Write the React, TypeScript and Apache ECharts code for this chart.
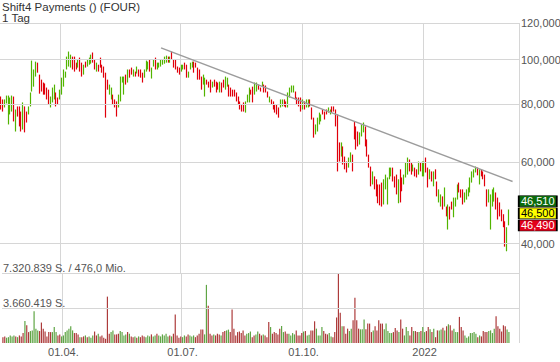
import React, { useEffect, useRef } from 'react';
import * as echarts from 'echarts';

// ---------- data ----------
const TITLE = 'Shift4 Payments () (FOUR)';
const PERIOD = '1 Tag';
const START_DATE = '2021-02-15';
const END_DATE = '2022-03-08';
const EMPTY_SLOTS = 5;

const HIGH = [
  // Feb 15 - Mar 31 2021
  83.2, 82.0, 82.0, 83.6, 83.6, 82.8, 83.6, 83.2, 78.0, 79.2,
  79.2, 77.2, 80.8, 79.2, 77.2, 79.2, 84.9, 99.5, 95.2, 99.0,
  98.5, 92.8, 90.5, 89.2, 88.8, 87.0, 86.1, 83.2, 87.0, 88.3,
  84.9, 82.8, 86.1,
  // Q2
  91.4, 95.2, 94.2, 101.5, 104.1, 102.5, 101.5, 101.5, 98.5, 100.0,
  101.0, 98.5, 97.5, 99.0, 100.0, 101.0, 102.5, 103.6, 100.0, 98.5,
  97.5, 101.0, 97.5, 96.6, 93.7, 90.5, 88.3, 87.0, 84.0, 82.0,
  81.2, 84.0, 91.9, 91.9, 91.9, 92.8, 95.2, 95.2, 96.1, 95.2,
  94.2, 96.6, 95.2, 95.2, 93.7, 95.2, 99.5, 99.0, 100.0, 96.1,
  100.0, 101.0, 98.5, 98.5, 100.0, 100.0, 101.5, 102.0, 101.5, 101.5,
  104.1, 100.0, 100.0, 96.6, 96.1,
  // Q3
  97.5, 97.5, 98.5, 97.5, 94.2, 98.5, 99.0, 99.0, 98.5, 96.1,
  95.2, 91.9, 92.8, 91.4, 90.5, 89.6, 90.5, 89.6, 90.5, 89.6,
  89.2, 89.6, 89.2, 90.5, 91.9, 91.4, 88.3, 87.0, 86.1, 86.1,
  84.9, 83.2, 81.2, 80.0, 80.8, 81.2, 84.0, 87.0, 86.1, 87.4,
  89.2, 89.2, 88.3, 87.0, 89.6, 88.3, 87.9, 85.3, 83.2, 82.0,
  81.2, 80.0, 80.0, 78.8, 82.0, 82.0, 82.0, 81.2, 84.9, 87.0,
  87.9, 87.9, 85.3, 82.8, 82.8, 82.8,
  // Q4
  82.0, 81.2, 82.0, 82.0, 82.0, 78.8, 74.9, 72.4, 74.9, 76.8,
  76.1, 78.0, 77.2, 78.0, 78.8, 78.0, 79.2, 79.2, 78.0, 76.1,
  66.2, 66.2, 64.9, 61.7, 60.2, 61.4, 63.0, 62.3, 73.5, 71.7,
  69.9, 69.6, 72.4, 73.1, 71.7, 67.2, 62.3, 58.7, 57.3, 55.9,
  55.1, 53.7, 53.7, 54.2, 55.1, 56.4, 55.6, 58.4, 58.4, 58.4,
  55.9, 56.4, 55.1, 57.9, 55.6, 56.4, 59.9, 61.4, 60.8, 59.9,
  59.3, 58.4, 57.9, 60.2, 59.9, 60.2,
  // 2022
  60.2, 61.4, 58.4, 57.9, 57.3, 57.3, 57.9, 54.5, 52.4, 51.1,
  50.6, 52.9, 48.1, 48.6, 48.1, 49.3, 50.3, 50.3, 53.7, 54.2,
  52.4, 52.4, 51.6, 52.4, 52.9, 55.6, 57.3, 57.9, 58.7, 58.4,
  57.9, 57.9, 57.3, 56.4, 52.4, 52.4, 51.1, 52.4, 52.9, 51.6,
  50.3, 49.1, 47.4, 46.3, 44.7, 43.4, 47.4,
];

const LOW = [
  78.0, 77.2, 78.8, 80.4, 72.4, 76.1, 77.2, 73.5, 69.9, 75.3,
  71.7, 69.9, 70.6, 69.6, 73.1, 76.1, 79.2, 85.3, 87.4, 91.9,
  93.7, 84.4, 85.3, 84.0, 84.0, 82.0, 80.0, 78.8, 80.8, 82.0,
  79.2, 80.0, 82.0,
  84.0, 87.4, 91.4, 95.2, 96.6, 96.1, 95.2, 94.2, 95.2, 96.1,
  94.2, 91.9, 92.8, 96.1, 96.6, 97.5, 98.0, 98.5, 95.2, 94.2,
  94.2, 96.1, 93.7, 91.4, 74.9, 86.1, 84.0, 82.0, 80.0, 78.8,
  75.3, 78.8, 81.2, 89.2, 84.0, 88.3, 89.2, 91.4, 92.8, 91.9,
  91.9, 93.3, 91.9, 91.4, 89.2, 91.4, 94.2, 95.2, 94.2, 91.0,
  96.6, 95.2, 95.2, 96.1, 96.6, 97.5, 98.0, 98.5, 98.5, 98.5,
  100.0, 96.1, 95.2, 93.7, 92.8,
  94.2, 95.2, 95.2, 91.4, 91.4, 95.2, 96.1, 93.7, 96.1, 90.5,
  90.5, 86.1, 88.3, 83.2, 88.3, 87.0, 84.9, 87.0, 87.4, 84.9,
  86.1, 84.9, 84.9, 87.0, 86.1, 87.4, 83.2, 83.2, 83.2, 83.2,
  81.2, 80.0, 78.0, 77.2, 77.2, 76.8, 80.8, 80.8, 84.0, 80.8,
  84.0, 85.3, 86.1, 85.3, 87.4, 84.9, 84.9, 82.8, 80.8, 80.0,
  78.0, 76.8, 76.1, 74.9, 78.8, 79.2, 79.2, 78.8, 78.8, 82.8,
  84.9, 84.9, 82.0, 80.0, 79.2, 77.2,
  78.0, 78.0, 78.8, 78.8, 79.2, 74.2, 67.8, 68.9, 69.9, 72.4,
  73.5, 76.1, 74.2, 76.1, 76.8, 76.1, 76.8, 77.2, 71.7, 57.3,
  60.2, 61.7, 59.3, 57.9, 57.0, 58.4, 59.9, 57.3, 67.2, 63.9,
  64.9, 65.5, 68.2, 69.6, 64.9, 61.7, 58.4, 53.2, 53.7, 52.4,
  50.6, 48.9, 48.4, 48.1, 48.6, 52.4, 48.6, 55.1, 55.9, 54.5,
  52.9, 51.1, 48.9, 49.1, 51.9, 53.7, 55.6, 56.4, 57.3, 56.4,
  57.3, 55.9, 55.6, 56.4, 57.3, 55.9,
  55.9, 57.0, 52.9, 55.1, 54.5, 53.2, 55.1, 50.6, 49.1, 48.1,
  47.4, 48.1, 45.8, 42.9, 45.1, 47.4, 45.6, 48.1, 49.8, 51.6,
  50.3, 48.6, 49.1, 49.8, 50.6, 51.6, 54.2, 55.6, 57.0, 56.2,
  53.7, 55.9, 55.1, 53.2, 48.1, 49.1, 42.9, 48.1, 49.3, 47.4,
  45.1, 45.8, 44.7, 43.4, 39.4, 38.5, 43.8,
];

// G = rising bar, R = falling bar
const DIRECTION = [
  'RR' + 'GGGGG' + 'R' + 'G' + 'RRR' + 'G' + 'RR' + 'GGGGG' + 'RRRRRRR' + 'GGG' + 'RR' + 'G',
  'GGGGGGRRRGRRGRGGGRRGRRRRRR' + 'GGRRRGGGGRGRRGRGRRRGGGRGGRGGGGGGRGRRRRR',
  'GG' + 'RR' + 'GGG' + 'RRRRR' + 'GG' + 'RRR' + 'G' + 'RRR' + 'G' + 'RR' + 'GG' + 'RRRRRRRRR' + 'GGG' + 'RR' + 'GG' + 'RR' + 'G' + 'RRR' + 'G' + 'RRRRR' + 'GG' + 'RR' + 'GGGG' + 'RRRR',
  'G' + 'R' + 'GG' + 'RRR' + 'GGGG' + 'RRR' + 'GG' + 'RRRRR' + 'G' + 'RRR' + 'GG' + 'RRRR' + 'GGG' + 'RRRR' + 'G' + 'RRRRR' + 'GGGGG' + 'RRR' + 'G' + 'RR' + 'GGG' + 'RR' + 'G' + 'RR' + 'G' + 'R' + 'G',
  'G' + 'RR' + 'G' + 'R' + 'G' + 'RR' + 'GG' + 'R' + 'G' + 'R' + 'G' + 'RR' + 'GGG' + 'RRR' + 'GGGGGGG' + 'R' + 'G' + 'RRRR' + 'GGGG' + 'RRRRRR' + 'GG',
].join('');

// volume in thousand shares
const VOLUME_K = [
  610, 690, 550, 610, 790, 690, 790, 690, 610, 790,
  690, 1040, 2300, 1850, 1140, 1250, 1320, 3330, 1500, 1320,
  1250, 2140, 1500, 1200, 690, 1140, 1140, 1140, 1670, 1140,
  790, 900, 690,
  790, 1140, 1320, 1500, 1750, 1320, 1040, 1040, 900, 610,
  610, 690, 790, 610, 690, 550, 790, 1200, 790, 970,
  690, 790, 550, 440, 4850, 970, 1140, 1320, 900, 900,
  970, 1250, 1140, 790, 900, 1140, 970, 690, 610, 690,
  550, 690, 610, 790, 690, 610, 790, 690, 900, 690,
  790, 970, 790, 690, 900, 790, 970, 690, 790, 690,
  970, 2980, 790, 550, 690,
  610, 790, 690, 900, 790, 690, 790, 610, 790, 970,
  1400, 1400, 900, 6080, 3900, 970, 790, 900, 790, 970,
  900, 790, 1140, 1250, 1320, 1400, 1140, 3510, 1500, 790,
  1140, 1200, 1040, 1320, 790, 970, 1040, 1200, 610, 790,
  900, 1200, 970, 790, 900, 790, 610, 2200, 1670, 970,
  1140, 1040, 900, 1500, 1780, 1140, 1200, 970, 970, 790,
  1040, 900, 1320, 790, 790, 1040,
  1200, 1250, 790, 860, 1320, 1320, 2270, 1500, 790, 790,
  1670, 1250, 970, 900, 1040, 690, 610, 1140, 2670, 7300,
  3160, 1750, 1750, 970, 1500, 1250, 1500, 2380, 4740, 2380,
  1500, 1430, 1430, 2450, 1430, 2030, 2030, 1140, 1320, 1750,
  1320, 2380, 2030, 2030, 1430, 2030, 1250, 1040, 1040, 1140,
  1570, 1320, 1140, 2450, 1500, 790, 1670, 1250, 790, 1670,
  1250, 1250, 1140, 1140, 1250, 1670,
  1140, 1250, 1670, 1430, 1140, 1500, 610, 1320, 1320, 1400,
  1600, 1320, 1750, 1960, 1850, 1320, 1500, 1140, 1140, 2730,
  1670, 1320, 790, 550, 690, 1040, 1040, 1140, 970, 610,
  790, 690, 1250, 1140, 1140, 1250, 1320, 1040, 1500, 2800,
  1750, 1500, 1200, 1850, 1750, 1400, 1140,
];

const PRICE_TICKS = [40, 60, 80, 100, 120];
const PRICE_MIN = 34.55;
const PRICE_MAX = 120;
const VOLUME_MAX = 7320839;
const TURNOVER = '476,0 Mio.';
const TREND_START = { idx: 87, price: 106.0 };
const TREND_END = { idx: 278, price: 54.5 };
const QUOTES = [
  { value: 46.51, bg: '#0c6b0c', fg: '#ffffff', shift: -12 },
  { value: 46.5, bg: '#ffff00', fg: '#000000', shift: 0 },
  { value: 46.49, bg: '#e2001a', fg: '#ffffff', shift: 12 },
];

// ---------- style ----------
const FONT = '"Liberation Sans", Arial, Helvetica, sans-serif';
const GRID_COLOR = '#d6d6d6';
const TEXT_COLOR = '#555555';
const UP = '#52b400';
const DOWN = '#e0000b';
const VOL_UP = '#5fa545';
const VOL_DOWN = '#ad3b3b';

function buildDates(start: string, end: string, extra: number): string[] {
  const out: string[] = [];
  const d = new Date(start + 'T00:00:00Z');
  const e = new Date(end + 'T00:00:00Z');
  while (d <= e) {
    const wd = d.getUTCDay();
    if (wd !== 0 && wd !== 6) out.push(d.toISOString().slice(0, 10));
    d.setUTCDate(d.getUTCDate() + 1);
  }
  let k = 0;
  while (k < extra) {
    const wd = d.getUTCDay();
    if (wd !== 0 && wd !== 6) {
      out.push(d.toISOString().slice(0, 10));
      k++;
    }
    d.setUTCDate(d.getUTCDate() + 1);
  }
  return out;
}

const fmtPrice = (v: number) => v.toFixed(3).replace('.', ',');
const fmtShares = (v: number) =>
  String(Math.floor(v)).replace(/\B(?=(\d{3})+(?!\d))/g, '.');

export default function App() {
  const ref = useRef<HTMLDivElement>(null);

  useEffect(() => {
    if (!ref.current) return;
    const chart = echarts.init(ref.current, undefined, { renderer: 'svg' });
    const dates = buildDates(START_DATE, END_DATE, EMPTY_SLOTS);
    const lastIdx = dates.length - 1;
    const month = (s: string) => Number(s.slice(5, 7));
    const isQuarterStart = (index: number) =>
      index > 0 &&
      index < dates.length &&
      month(dates[index]) !== month(dates[index - 1]) &&
      (month(dates[index]) - 1) % 3 === 0;
    const fmtDate = (s: string) => {
      const [y, m, d] = s.split('-');
      return m === '01' ? y : `${d}.${m}.`;
    };

    const ohlc = HIGH.map((h, i) =>
      DIRECTION[i] === 'G' ? [LOW[i], h, LOW[i], h] : [h, LOW[i], LOW[i], h]
    );
    const volume = VOLUME_K.map((v, i) => ({
      value: v * 1000,
      itemStyle: { color: DIRECTION[i] === 'G' ? VOL_UP : VOL_DOWN },
    }));

    const xBase = {
      type: 'category',
      data: dates,
      boundaryGap: true,
      axisLine: { show: false },
      axisTick: { show: false },
      splitLine: {
        show: true,
        interval: (i: number) => isQuarterStart(i),
        lineStyle: { color: GRID_COLOR, width: 1 },
      },
    };

    chart.setOption({
      animation: false,
      backgroundColor: '#ffffff',
      textStyle: { fontFamily: FONT },
      title: {
        text: TITLE + '\n' + PERIOD,
        left: 2,
        top: 1,
        padding: 0,
        textStyle: {
          fontFamily: FONT,
          fontSize: 11.5,
          fontWeight: 'normal',
          color: '#333333',
          lineHeight: 11,
        },
      },
      grid: [
        { left: 0, right: 41, top: 23, height: 250 },
        { left: 0, right: 41, top: 273, height: 70 },
      ],
      xAxis: [
        { ...xBase, gridIndex: 0, axisLabel: { show: false } },
        {
          ...xBase,
          gridIndex: 1,
          axisLabel: {
            show: true,
            interval: (i: number) => isQuarterStart(i),
            formatter: (v: string) => fmtDate(v),
            color: TEXT_COLOR,
            fontSize: 11,
            fontFamily: FONT,
            margin: 3,
          },
        },
      ],
      yAxis: [
        { type: 'log', gridIndex: 0, min: PRICE_MIN, max: PRICE_MAX, show: false },
        {
          type: 'value',
          gridIndex: 1,
          min: 0,
          max: VOLUME_MAX,
          interval: VOLUME_MAX / 2,
          axisLine: { show: false },
          axisTick: { show: false },
          splitLine: { show: false },
          axisLabel: {
            inside: true,
            margin: 1,
            verticalAlign: 'bottom',
            color: TEXT_COLOR,
            fontSize: 11,
            fontFamily: FONT,
            formatter: (v: number) =>
              v <= 0
                ? ''
                : v >= VOLUME_MAX
                ? `${fmtShares(v)} S. / ${TURNOVER}`
                : `${fmtShares(v)} S.`,
          },
        },
      ],
      series: [
        {
          type: 'line',
          xAxisIndex: 0,
          yAxisIndex: 0,
          data: [],
          z: 1,
          silent: true,
          markLine: {
            silent: true,
            symbol: ['none', 'none'],
            lineStyle: { color: GRID_COLOR, width: 1, type: 'solid' },
            label: {
              show: true,
              position: 'end',
              distance: 2,
              color: TEXT_COLOR,
              fontSize: 11,
              fontFamily: FONT,
              formatter: (p: any) => fmtPrice(Number(p.value)),
            },
            data: PRICE_TICKS.map((v) => ({ yAxis: v })),
          },
        },
        {
          type: 'candlestick',
          xAxisIndex: 0,
          yAxisIndex: 0,
          data: ohlc,
          barWidth: 0.5,
          z: 3,
          silent: true,
          itemStyle: {
            color: UP,
            color0: DOWN,
            borderColor: UP,
            borderColor0: DOWN,
            borderWidth: 1.2,
          },
          markLine: {
            silent: true,
            symbol: ['none', 'none'],
            label: { show: false },
            lineStyle: { color: '#9c9c9c', width: 1.5, type: 'solid' },
            data: [
              [
                { coord: [TREND_START.idx, TREND_START.price] },
                { coord: [TREND_END.idx, TREND_END.price] },
              ],
            ],
          },
        },
        {
          type: 'line',
          xAxisIndex: 0,
          yAxisIndex: 0,
          data: [],
          z: 6,
          silent: true,
          markPoint: {
            silent: true,
            symbol: 'rect',
            symbolSize: [38, 11],
            itemStyle: { borderColor: '#000000', borderWidth: 1 },
            label: {
              show: true,
              position: 'inside',
              fontSize: 11,
              fontFamily: FONT,
              formatter: (p: any) => p.name,
            },
            data: QUOTES.map((q) => ({
              name: fmtPrice(q.value),
              coord: [lastIdx, q.value],
              symbolOffset: [19.7, q.shift],
              itemStyle: { color: q.bg },
              label: { color: q.fg },
            })),
          },
        },
        {
          type: 'line',
          xAxisIndex: 1,
          yAxisIndex: 1,
          data: [],
          z: 1,
          silent: true,
          markLine: {
            silent: true,
            symbol: ['none', 'none'],
            label: { show: false },
            lineStyle: { color: GRID_COLOR, width: 1, type: 'solid' },
            data: [{ yAxis: VOLUME_MAX }, { yAxis: VOLUME_MAX / 2 }],
          },
        },
        {
          type: 'bar',
          xAxisIndex: 1,
          yAxisIndex: 1,
          data: volume,
          barWidth: 1.2,
          z: 3,
          silent: true,
        },
      ],
    });
    return () => chart.dispose();
  }, []);

  return (
    <div
      ref={ref}
      style={{ position: 'fixed', left: 0, top: 0, width: 560, height: 362, background: '#fff' }}
    />
  );
}
